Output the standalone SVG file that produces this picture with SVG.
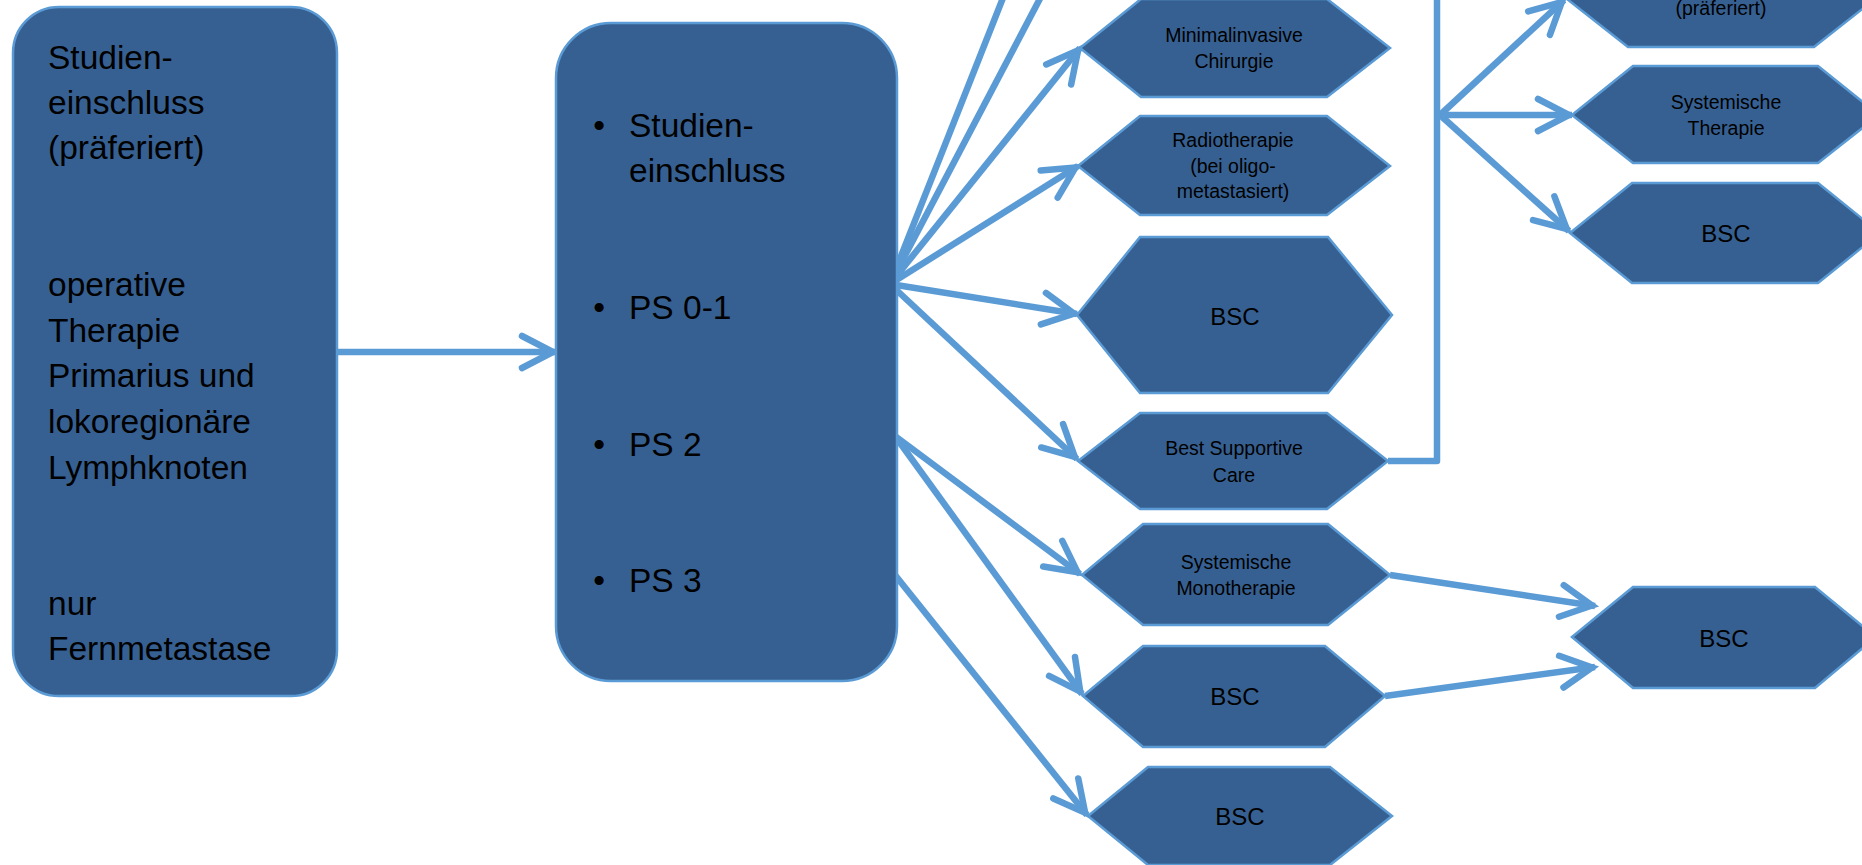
<svg xmlns="http://www.w3.org/2000/svg" width="1862" height="865" viewBox="0 0 1862 865">
  <defs>
    <style>
      .box { fill: #376092; stroke: #5B9BD5; stroke-width: 2.5; }
      .hex { fill: #376092; stroke: #5B9BD5; stroke-width: 2.5; stroke-linejoin: miter; }
      .big { font-family: "Liberation Sans", Arial, sans-serif; font-size: 33.5px; fill: #000; }
      .small { font-family: "Liberation Sans", Arial, sans-serif; font-size: 19.5px; fill: #000; text-anchor: middle; }
      .bsc { font-family: "Liberation Sans", Arial, sans-serif; font-size: 24px; fill: #000; text-anchor: middle; }
      .link { fill: none; stroke: #5B9BD5; stroke-width: 6.5; stroke-linejoin: round; }
      .arrow { marker-end: url(#head); }
    </style>
    <marker id="head" markerUnits="userSpaceOnUse" markerWidth="60" markerHeight="60" viewBox="-45 -30 60 60" refX="0" refY="0" orient="auto" overflow="visible">
      <path d="M-34,-16 L-3,0 L-34,16" fill="none" stroke="#5B9BD5" stroke-width="6.5" stroke-linecap="round" stroke-linejoin="miter"/>
    </marker>
  </defs>

  <rect width="1862" height="865" fill="#ffffff"/>

  <!-- connectors -->
  <g id="connectors">
    <path class="link arrow" d="M337,352 L556,352"/>
    <!-- PS 0-1 fan -->
    <path class="link" d="M890,284 L1014,-30"/>
    <path class="link" d="M890,284 L1055,-30"/>
    <path class="link arrow" d="M890,284 L1080,48"/>
    <path class="link arrow" d="M890,284 L1078,166"/>
    <path class="link arrow" d="M890,284 L1077,314"/>
    <path class="link arrow" d="M890,284 L1077,459"/>
    <!-- PS 2 -->
    <path class="link arrow" d="M895,436 L1080,574"/>
    <path class="link arrow" d="M895,436 L1082,694"/>
    <!-- PS 3 -->
    <path class="link arrow" d="M895,575 L1087,815"/>
    <!-- Best Supportive Care branch -->
    <path class="link" d="M1388,461 L1437,461 L1437,-20"/>
    <path class="link arrow" d="M1440,115 L1564,0"/>
    <path class="link arrow" d="M1440,115 L1572,115"/>
    <path class="link arrow" d="M1440,115 L1569,231"/>
    <!-- into lower right BSC -->
    <path class="link arrow" d="M1390,575 L1595,606"/>
    <path class="link arrow" d="M1385,696 L1595,667"/>
  </g>

  <g id="inclusion">
    <rect class="box" x="13" y="7" width="324" height="689" rx="46" ry="46"/>
    <text class="big" x="48" y="69">Studien-</text>
    <text class="big" x="48" y="114">einschluss</text>
    <text class="big" x="48" y="159">(präferiert)</text>
    <text class="big" x="48" y="296">operative</text>
    <text class="big" x="48" y="342">Therapie</text>
    <text class="big" x="48" y="387">Primarius und</text>
    <text class="big" x="48" y="433">lokoregionäre</text>
    <text class="big" x="48" y="479">Lymphknoten</text>
    <text class="big" x="48" y="615">nur</text>
    <text class="big" x="48" y="660">Fernmetastase</text>
  </g>

  <g id="status">
    <rect class="box" x="556" y="23" width="341" height="658" rx="55" ry="55"/>
    <text class="big" x="599" y="137" text-anchor="middle">•</text>
    <text class="big" x="629" y="137">Studien-</text>
    <text class="big" x="629" y="182">einschluss</text>
    <text class="big" x="599" y="319" text-anchor="middle">•</text>
    <text class="big" x="629" y="319">PS 0-1</text>
    <text class="big" x="599" y="456" text-anchor="middle">•</text>
    <text class="big" x="629" y="456">PS 2</text>
    <text class="big" x="599" y="592" text-anchor="middle">•</text>
    <text class="big" x="629" y="592">PS 3</text>
  </g>

  <g id="minimalinvasive">
    <polygon class="hex" points="1080,48 1141,-1 1327,-1 1390,48 1327,97 1141,97"/>
    <text class="small" x="1234" y="42">Minimalinvasive</text>
    <text class="small" x="1234" y="68">Chirurgie</text>
  </g>

  <g id="radiotherapie">
    <polygon class="hex" points="1078,166 1140,116 1327,116 1390,166 1327,215 1140,215"/>
    <text class="small" x="1233" y="147">Radiotherapie</text>
    <text class="small" x="1233" y="173">(bei oligo-</text>
    <text class="small" x="1233" y="198">metastasiert)</text>
  </g>

  <g id="bsc-ps01">
    <polygon class="hex" points="1077,315 1140,237 1328,237 1392,315 1328,393 1140,393"/>
    <text class="bsc" x="1235" y="325">BSC</text>
  </g>

  <g id="best-supportive-care">
    <polygon class="hex" points="1078,461 1140,413 1327,413 1388,461 1327,509 1140,509"/>
    <text class="small" x="1234" y="455">Best Supportive</text>
    <text class="small" x="1234" y="482">Care</text>
  </g>

  <g id="systemische-monotherapie">
    <polygon class="hex" points="1082,575 1143,524 1328,524 1390,575 1328,625 1143,625"/>
    <text class="small" x="1236" y="569">Systemische</text>
    <text class="small" x="1236" y="595">Monotherapie</text>
  </g>

  <g id="bsc-ps2">
    <polygon class="hex" points="1083,696 1143,646 1325,646 1385,696 1325,747 1143,747"/>
    <text class="bsc" x="1235" y="705">BSC</text>
  </g>

  <g id="bsc-ps3">
    <polygon class="hex" points="1088,816 1148,767 1330,767 1392,816 1330,865 1148,865"/>
    <text class="bsc" x="1240" y="825">BSC</text>
  </g>

  <g id="studie-praeferiert">
    <polygon class="hex" points="1567,-1 1628,-49 1814,-49 1875,-1 1814,47 1628,47"/>
    <text class="small" x="1721" y="15">(präferiert)</text>
  </g>

  <g id="systemische-therapie">
    <polygon class="hex" points="1572,115 1633,66 1818,66 1879,115 1818,163 1633,163"/>
    <text class="small" x="1726" y="109">Systemische</text>
    <text class="small" x="1726" y="135">Therapie</text>
  </g>

  <g id="bsc-after-care">
    <polygon class="hex" points="1570,233 1632,183 1818,183 1880,233 1818,283 1632,283"/>
    <text class="bsc" x="1726" y="242">BSC</text>
  </g>

  <g id="bsc-final">
    <polygon class="hex" points="1572,637 1633,587 1815,587 1876,637 1815,688 1633,688"/>
    <text class="bsc" x="1724" y="647">BSC</text>
  </g>
</svg>
